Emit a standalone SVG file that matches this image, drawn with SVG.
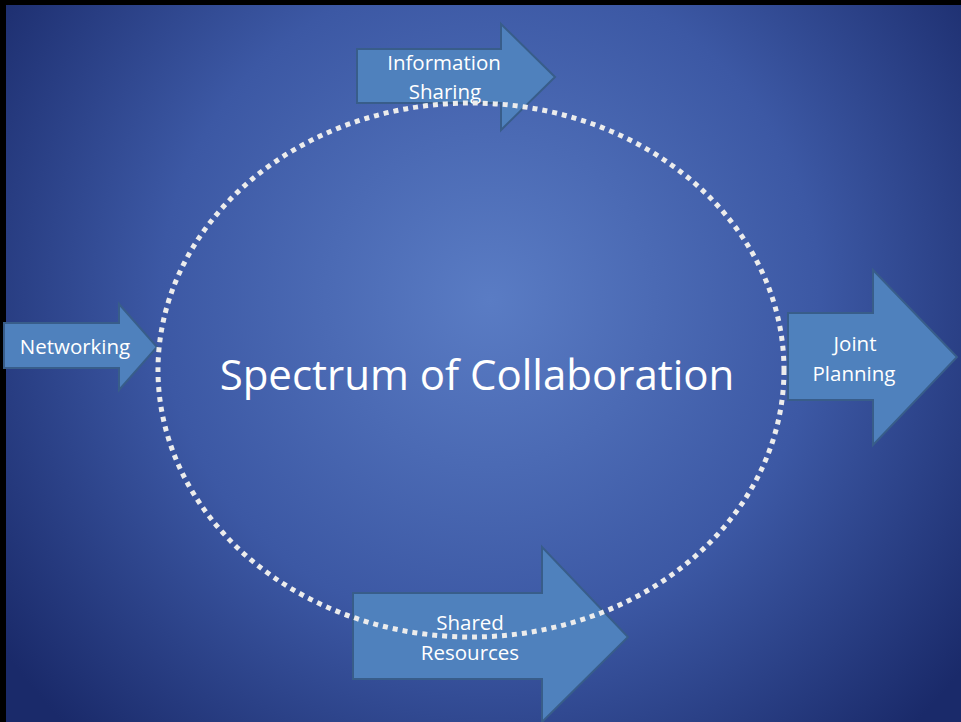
<svg xmlns="http://www.w3.org/2000/svg" width="961" height="722" viewBox="0 0 961 722">
<defs>
<radialGradient id="bg" cx="490" cy="300" r="600" gradientUnits="userSpaceOnUse">
<stop offset="0" stop-color="#5a7cc4"/>
<stop offset="0.55" stop-color="#3c58a4"/>
<stop offset="1" stop-color="#1a2a6a"/>
</radialGradient>
<style>
.arrow{fill:#4f81bd;stroke:#385d8a;stroke-width:2;stroke-linejoin:miter}
.lbl{font-family:"Open Sans","Liberation Sans",sans-serif;font-size:20.5px;fill:#ffffff;text-anchor:middle}
.title{font-family:"Open Sans","Liberation Sans",sans-serif;font-size:42px;fill:#ffffff;text-anchor:middle}
.ring{fill:none;stroke:#ececec;stroke-width:5;stroke-dasharray:5 5}
</style>
</defs>
<rect x="0" y="0" width="961" height="722" fill="#000"/>
<rect x="6" y="5" width="955" height="717" fill="url(#bg)"/>
<g id="networking">
<polygon class="arrow" points="4,323 119,323 119,304 157,347 119,390 119,368 4,368"/>
<text class="lbl" x="75" y="354">Networking</text>
</g>
<g id="information-sharing">
<polygon class="arrow" points="357,49 501,49 501,24 555,77 501,130 501,103 357,103"/>
<text class="lbl" x="444" y="70">Information</text>
<text class="lbl" x="445" y="99">Sharing</text>
</g>
<g id="joint-planning">
<polygon class="arrow" points="788,313 873,313 873,270 957,357 873,445 873,400 788,400"/>
<text class="lbl" x="855" y="351">Joint</text>
<text class="lbl" x="854" y="381">Planning</text>
</g>
<g id="shared-resources">
<polygon class="arrow" points="353,593 542,593 542,547 628,637 542,722 542,679 353,679"/>
<text class="lbl" x="470" y="630">Shared</text>
<text class="lbl" x="470" y="660">Resources</text>
</g>
<g id="connectors">
<ellipse class="ring" cx="471" cy="370" rx="313" ry="267"/>
</g>
<g id="title">
<text class="title" x="477" y="390">Spectrum of Collaboration</text>
</g>
</svg>
